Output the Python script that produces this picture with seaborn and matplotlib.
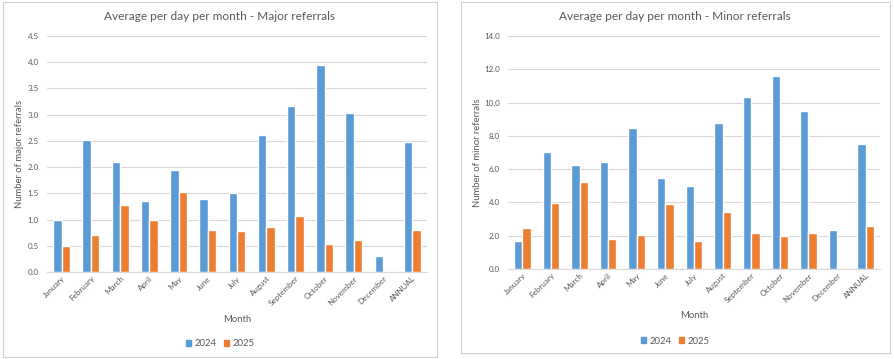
import pandas as pd
import matplotlib.pyplot as plt
import matplotlib.patches as mpatches
import seaborn as sns

months = ['January', 'February', 'March', 'April', 'May', 'June', 'July',
          'August', 'September', 'October', 'November', 'December', 'ANNUAL']
years = ['2024', '2025']

major_2024 = [1.00, 2.51, 2.09, 1.36, 1.95, 1.40, 1.50, 2.61, 3.17, 3.95, 3.04, 0.30, 2.47]
major_2025 = [0.50, 0.70, 1.28, 1.00, 1.52, 0.80, 0.79, 0.86, 1.07, 0.53, 0.61, None, 0.81]

minor_2024 = [1.70, 7.03, 6.23, 6.43, 8.47, 5.49, 4.97, 8.77, 10.35, 11.58, 9.51, 2.36, 7.51]
minor_2025 = [2.46, 3.99, 5.23, 1.78, 2.04, 3.91, 1.70, 3.42, 2.18, 1.98, 2.18, None, 2.58]

blue = '#5B9BD5'
orange = '#ED7D31'
grey_text = '#595959'
grid_col = '#D9D9D9'

sns.set_style('white')
plt.rcParams['font.family'] = ['Lato', 'DejaVu Sans']


def long_df(a, b):
    rows = []
    for m, v in zip(months, a):
        rows.append({'Month': m, 'Year': years[0], 'Value': v})
    for m, v in zip(months, b):
        rows.append({'Month': m, 'Year': years[1], 'Value': v})
    return pd.DataFrame(rows)


fig = plt.figure(figsize=(8.94, 3.59), dpi=100)
W, H = 894, 359


def px_axes(x0, x1, y_top, y_bot):
    return fig.add_axes([x0 / W, 1 - y_bot / H, (x1 - x0) / W, (y_bot - y_top) / H])


# panel borders
for x0, x1, y0, y1 in [(3, 437, 2, 357), (461, 890, 2, 353)]:
    fig.patches.append(mpatches.Rectangle((x0 / W, 1 - y1 / H), (x1 - x0) / W, (y1 - y0) / H,
                                          transform=fig.transFigure, fill=False,
                                          edgecolor='#D0D0D0', linewidth=0.8))

panels = [
    dict(a=major_2024, b=major_2025, ax=(47, 427, 36, 272), ymax=4.5, step=0.5,
         title='Average per day per month - Major referrals', ylabel='Number of major referrals',
         cx=220, ylx=20, xly=319, legy=344),
    dict(a=minor_2024, b=minor_2025, ax=(508, 880, 36, 269), ymax=14.0, step=2.0,
         title='Average per day per month - Minor referrals', ylabel='Number of minor referrals',
         cx=675, ylx=478, xly=316, legy=341),
]

for p in panels:
    x0, x1, yt, yb = p['ax']
    ax = px_axes(x0, x1, yt, yb)
    df = long_df(p['a'], p['b'])
    sns.barplot(data=df, x='Month', y='Value', hue='Year', palette=[blue, orange],
                width=0.58, gap=0, legend=False, ax=ax, saturation=1)
    ax.set_ylim(0, p['ymax'])
    n = int(round(p['ymax'] / p['step']))
    ticks = [i * p['step'] for i in range(n + 1)]
    ax.set_yticks(ticks)
    ax.set_yticklabels([f'{t:.1f}' for t in ticks])
    ax.yaxis.grid(True, color=grid_col, linewidth=0.8)
    ax.set_axisbelow(True)
    for s in ['top', 'right', 'left']:
        ax.spines[s].set_visible(False)
    ax.spines['bottom'].set_color(grid_col)
    ax.tick_params(axis='both', length=0, colors=grey_text, labelsize=5.8)
    ax.tick_params(axis='y', pad=6)
    ax.tick_params(axis='x', pad=2)
    for lab in ax.get_xticklabels():
        lab.set_rotation(45)
        lab.set_ha('right')
        lab.set_rotation_mode('anchor')
    ax.set_xlabel('')
    ax.set_ylabel('')
    ax.set_xlim(-0.5, len(months) - 0.5)

    fig.text(p['cx'] / W, 1 - 17 / H, p['title'], ha='center', va='center',
             fontsize=8.6, color=grey_text)
    fig.text(p['ylx'] / W, 1 - (yt + yb) / 2 / H, p['ylabel'], rotation=90,
             ha='center', va='center', fontsize=6.8, color=grey_text)
    fig.text((x0 + x1) / 2 / W, 1 - p['xly'] / H, 'Month', ha='center', va='center',
             fontsize=6.8, color=grey_text)
    handles = [mpatches.Patch(color=blue, label='2024'), mpatches.Patch(color=orange, label='2025')]
    fig.legend(handles=handles, loc='center', bbox_to_anchor=(p['cx'] / W, 1 - p['legy'] / H),
               ncol=2, frameon=False, fontsize=6.8, handlelength=0.6, handleheight=0.6,
               handletextpad=0.3, columnspacing=0.8, labelcolor=grey_text)

fig.savefig('out.png', dpi=100)
